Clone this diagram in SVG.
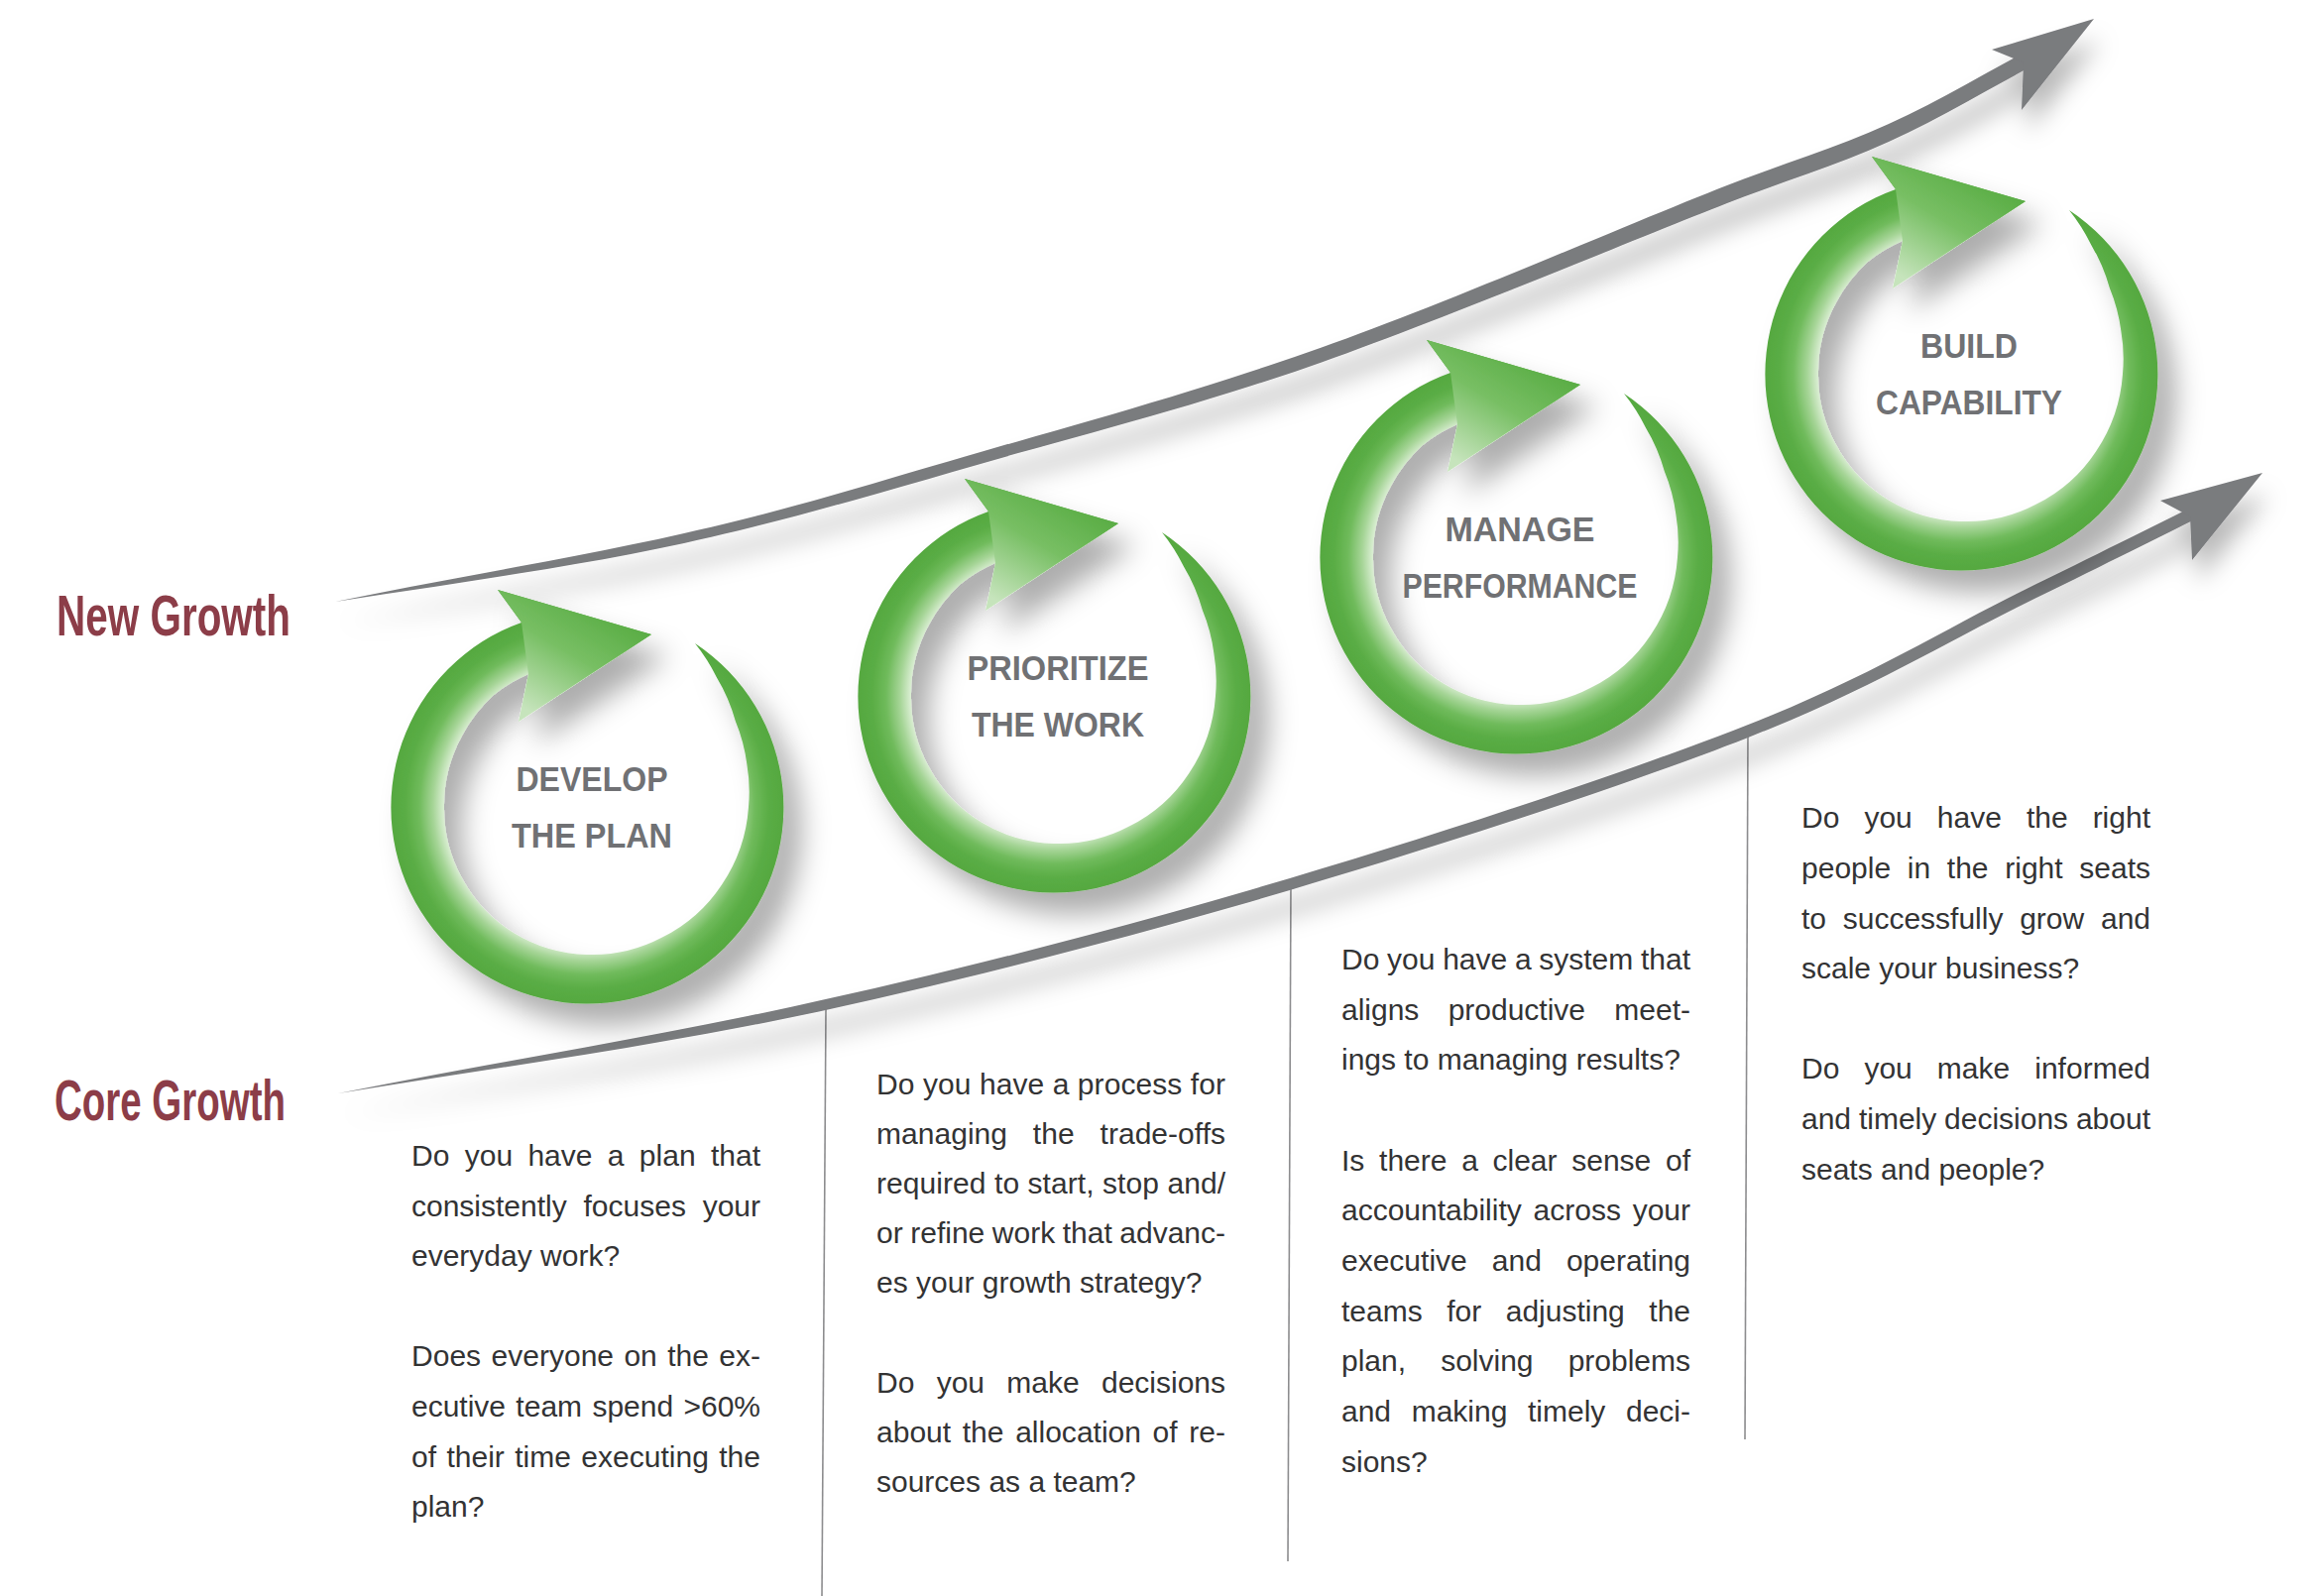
<svg xmlns="http://www.w3.org/2000/svg" width="2338" height="1610" viewBox="0 0 2338 1610">
<style>
.q{font-family:"Liberation Sans",Arial,sans-serif;font-size:30px;fill:#333334;}
.lbl{font-family:"Liberation Sans",Arial,sans-serif;font-size:35px;font-weight:bold;fill:#707174;text-anchor:middle;}
.grow{font-family:"Liberation Sans",Arial,sans-serif;font-size:57px;font-weight:bold;fill:#8c3d48;}
.sep{stroke:#8d8d8f;stroke-width:1.6;fill:none;}
.swoosh{fill:#7a7b7e;}
.ring{fill:url(#ringGrad);}
.head{fill:url(#headGrad);}
</style>
<defs>
<radialGradient id="ringGrad" gradientUnits="userSpaceOnUse" cx="0" cy="0" r="199">
<stop offset="0" stop-color="#ffffff"/>
<stop offset="0.69" stop-color="#f3f9f1"/>
<stop offset="0.73" stop-color="#d6ecce"/>
<stop offset="0.78" stop-color="#a6d597"/>
<stop offset="0.85" stop-color="#70bb5c"/>
<stop offset="0.92" stop-color="#5aad45"/>
<stop offset="1" stop-color="#55a840"/>
</radialGradient>
<linearGradient id="headGrad" gradientUnits="userSpaceOnUse" x1="10" y1="-205" x2="-55" y2="-95">
<stop offset="0" stop-color="#5aad45"/>
<stop offset="0.45" stop-color="#78bf64"/>
<stop offset="1" stop-color="#c6e4bc"/>
</linearGradient>
<filter id="ringShadow" x="-30%" y="-30%" width="170%" height="170%">
<feDropShadow dx="18" dy="22" stdDeviation="14" flood-color="#000" flood-opacity="0.32"/>
</filter>
<filter id="arrowShadow" x="-10%" y="-40%" width="120%" height="200%">
<feDropShadow dx="6" dy="22" stdDeviation="12" flood-color="#000" flood-opacity="0.28"/>
</filter>
<path id="ringShape" d="M 109,-165 A 198 198 0 1 1 -66,-186 L -90,-219 L 65,-174 L -69,-86 L -59,-134 A 148 148 0 0 0 -94.5,-112.6 A 146 146 0 0 0 -125.6,-72.5 A 145 145 0 0 0 -144,0 A 145 145 0 0 0 -125.6,72.5 A 146 146 0 0 0 -73.5,127.3 A 148 148 0 0 0 0,149 A 151 151 0 0 0 76,131.6 A 155 155 0 0 0 136,78.5 A 160 160 0 0 0 163,0 A 165 165 0 0 0 161.3,-43.2 A 170 170 0 0 0 149.8,-86.5 A 178 178 0 0 0 130.8,-130.8 A 190 190 0 0 0 109,-165 Z"/>
<path id="headShape" d="M -66,-186 L -90,-219 L 65,-174 L -69,-86 L -59,-134 Z"/>
</defs>

<rect x="0" y="0" width="2338" height="1610" fill="#ffffff"/>

<g id="separators">
<line class="sep" x1="833" y1="1018" x2="829" y2="1610"/>
<line class="sep" x1="1302" y1="890" x2="1299" y2="1575"/>
<line class="sep" x1="1763" y1="739" x2="1760" y2="1452"/>
</g>

<g id="connectors">
<g id="arrow-new-growth" filter="url(#arrowShadow)">
<path class="swoosh" d="M 338,607 C 455.3,582.7 581.5,562.7 690,538 C 798.5,513.8 881.8,486.8 989,456 C 1096.2,425.2 1207.5,394.8 1333,350.5 C 1458.5,306.2 1646.7,224.3 1742,187 C 1795,166.2 1852,149 1905,125 C 1958,101 2008.3,70.3 2060,43 L 2060,61 C 2008.3,88.3 1958,119 1905,143 C 1852,167 1795,184.2 1742,205 C 1646.7,242.3 1458.5,321.2 1333,365.5 C 1207.5,409.8 1096.2,437.2 989,468 C 881.8,498.8 798.5,523.8 690,548 C 581.5,571.7 455.3,588.7 338,607 Z"/>
<polygon class="swoosh" points="2112,19 2009,50 2041,63 2039,111"/>
</g>
<g id="arrow-core-growth" filter="url(#arrowShadow)">
<path class="swoosh" d="M 341,1103 C 502.7,1070.7 666,1045.7 826,1009.5 C 986,974.3 1145,932.2 1301,886 C 1457,839.8 1638.8,779.7 1762,731.5 C 1885.2,683.3 1963,633.7 2040,596 C 2117,558.3 2162.7,535.3 2224,505 L 2224,519 C 2162.7,549.3 2117,572.3 2040,610 C 1963,647.7 1885.2,696.3 1762,744.5 C 1638.8,792.7 1457,851.8 1301,898 C 1145,944.2 986,985.3 826,1020.5 C 666,1054.7 502.7,1076.7 341,1103 Z"/>
<polygon class="swoosh" points="2282,477 2179,505 2209,521 2211,565"/>
</g>
</g>

<g id="label-new-growth">
<text class="grow" x="57" y="641" textLength="236" lengthAdjust="spacingAndGlyphs">New Growth</text>
</g>
<g id="label-core-growth">
<text class="grow" x="55" y="1130" textLength="233" lengthAdjust="spacingAndGlyphs">Core Growth</text>
</g>

<g id="node-develop">
<g transform="translate(592,814)" filter="url(#ringShadow)">
<use href="#ringShape" class="ring"/>
<use href="#headShape" class="head"/>
</g>
<text class="lbl" x="597" y="798" textLength="153" lengthAdjust="spacingAndGlyphs">DEVELOP</text>
<text class="lbl" x="597" y="855" textLength="162" lengthAdjust="spacingAndGlyphs">THE PLAN</text>
</g>

<g id="node-prioritize">
<g transform="translate(1063,702)" filter="url(#ringShadow)">
<use href="#ringShape" class="ring"/>
<use href="#headShape" class="head"/>
</g>
<text class="lbl" x="1067" y="686" textLength="183" lengthAdjust="spacingAndGlyphs">PRIORITIZE</text>
<text class="lbl" x="1067" y="743" textLength="174" lengthAdjust="spacingAndGlyphs">THE WORK</text>
</g>

<g id="node-manage">
<g transform="translate(1529,562)" filter="url(#ringShadow)">
<use href="#ringShape" class="ring"/>
<use href="#headShape" class="head"/>
</g>
<text class="lbl" x="1533" y="546" textLength="151" lengthAdjust="spacingAndGlyphs">MANAGE</text>
<text class="lbl" x="1533" y="603" textLength="237" lengthAdjust="spacingAndGlyphs">PERFORMANCE</text>
</g>

<g id="node-build">
<g transform="translate(1978,377)" filter="url(#ringShadow)">
<use href="#ringShape" class="ring"/>
<use href="#headShape" class="head"/>
</g>
<text class="lbl" x="1986" y="361" textLength="98" lengthAdjust="spacingAndGlyphs">BUILD</text>
<text class="lbl" x="1986" y="418" textLength="188" lengthAdjust="spacingAndGlyphs">CAPABILITY</text>
</g>

<g id="text-develop">
<text class="q" x="415" y="1176" word-spacing="7" textLength="352" lengthAdjust="spacing">Do you have a plan that</text>
<text class="q" x="415" y="1226.6" word-spacing="8.4" textLength="352" lengthAdjust="spacing">consistently focuses your</text>
<text class="q" x="415" y="1277.2">everyday work?</text>
<text class="q" x="415" y="1378.4" word-spacing="2" textLength="352" lengthAdjust="spacing">Does everyone on the ex-</text>
<text class="q" x="415" y="1429" word-spacing="2" textLength="352" lengthAdjust="spacing">ecutive team spend &gt;60%</text>
<text class="q" x="415" y="1479.6" word-spacing="2" textLength="352" lengthAdjust="spacing">of their time executing the</text>
<text class="q" x="415" y="1530.2">plan?</text>
</g>

<g id="text-prioritize">
<text class="q" x="884" y="1103.5" textLength="352" lengthAdjust="spacing">Do you have a process for</text>
<text class="q" x="884" y="1153.7" word-spacing="17.5" textLength="352" lengthAdjust="spacing">managing the trade-offs</text>
<text class="q" x="884" y="1203.8" textLength="352" lengthAdjust="spacing">required to start, stop and/</text>
<text class="q" x="884" y="1254" word-spacing="-0.8" textLength="352" lengthAdjust="spacing">or refine work that advanc-</text>
<text class="q" x="884" y="1304.2">es your growth strategy?</text>
<text class="q" x="884" y="1404.5" word-spacing="14" textLength="352" lengthAdjust="spacing">Do you make decisions</text>
<text class="q" x="884" y="1454.6" word-spacing="3.3" textLength="352" lengthAdjust="spacing">about the allocation of re-</text>
<text class="q" x="884" y="1504.8">sources as a team?</text>
</g>

<g id="text-manage">
<text class="q" x="1353" y="977.8" word-spacing="-0.6" textLength="352" lengthAdjust="spacing">Do you have a system that</text>
<text class="q" x="1353" y="1028.5" word-spacing="21" textLength="352" lengthAdjust="spacing">aligns productive meet-</text>
<text class="q" x="1353" y="1079.2">ings to managing results?</text>
<text class="q" x="1353" y="1180.6" word-spacing="6.4" textLength="352" lengthAdjust="spacing">Is there a clear sense of</text>
<text class="q" x="1353" y="1231.3" word-spacing="3.4" textLength="352" lengthAdjust="spacing">accountability across your</text>
<text class="q" x="1353" y="1282" word-spacing="16.7" textLength="352" lengthAdjust="spacing">executive and operating</text>
<text class="q" x="1353" y="1332.7" word-spacing="16.2" textLength="352" lengthAdjust="spacing">teams for adjusting the</text>
<text class="q" x="1353" y="1383.4" word-spacing="26.8" textLength="352" lengthAdjust="spacing">plan, solving problems</text>
<text class="q" x="1353" y="1434.1" word-spacing="12.3" textLength="352" lengthAdjust="spacing">and making timely deci-</text>
<text class="q" x="1353" y="1484.8">sions?</text>
</g>

<g id="text-build">
<text class="q" x="1817" y="835.4" word-spacing="16.7" textLength="352" lengthAdjust="spacing">Do you have the right</text>
<text class="q" x="1817" y="886" word-spacing="8.3" textLength="352" lengthAdjust="spacing">people in the right seats</text>
<text class="q" x="1817" y="936.6" word-spacing="8.4" textLength="352" lengthAdjust="spacing">to successfully grow and</text>
<text class="q" x="1817" y="987.2">scale your business?</text>
<text class="q" x="1817" y="1088.4" word-spacing="16.7" textLength="352" lengthAdjust="spacing">Do you make informed</text>
<text class="q" x="1817" y="1139" word-spacing="-0.5" textLength="352" lengthAdjust="spacing">and timely decisions about</text>
<text class="q" x="1817" y="1189.6">seats and people?</text>
</g>
</svg>
